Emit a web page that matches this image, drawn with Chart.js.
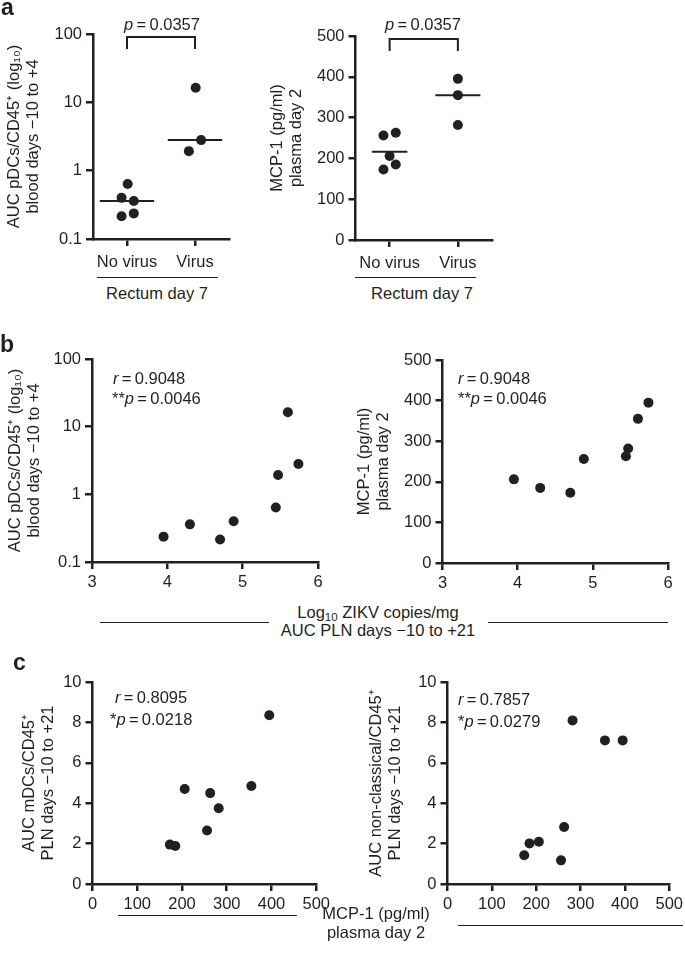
<!DOCTYPE html>
<html>
<head>
<meta charset="utf-8">
<script src="https://cdn.jsdelivr.net/npm/chart.js@4.4.1/dist/chart.umd.min.js"></script>
<style>
  body { margin: 0; width: 685px; height: 963px; position: relative; overflow: hidden; background: #fff;
         font-family: "Liberation Sans", Arial, sans-serif; color: #231f20; }
  canvas { position: absolute; }
  .t { position: absolute; line-height: 1; white-space: nowrap; }
  .t sub { font-size: 0.7em; vertical-align: -0.3em; line-height: 0; }
  .hr { position: absolute; height: 0; border-top: 1.2px solid #231f20; }
</style>
</head>
<body>
<canvas id="aLeft"></canvas>
<canvas id="aRight"></canvas>
<canvas id="bLeft"></canvas>
<canvas id="bRight"></canvas>
<canvas id="cLeft"></canvas>
<canvas id="cRight"></canvas>
<script>
// one entry per animal, ordered by ZIKV load in PLN
const groups = ['No virus', 'Virus']
const zikvLog = [3.95, 4.30, 4.70, 4.88, 5.44, 5.47, 5.60, 5.74]
const pdcAuc = [0.237, 0.36, 0.215, 0.40, 0.64, 1.93, 16.3, 2.8]
const mcp1 = [206, 185, 173, 256, 263, 282, 355, 395]
const mdcAuc = [4.7, 1.88, 1.95, 2.65, 4.5, 3.75, 4.85, 8.35]
const nonClassicalAuc = [2.09, 2.01, 1.42, 1.17, 2.82, 8.1, 7.11, 7.11]
const rectumVirus = [0, 0, 0, 0, 0, 1, 1, 1]
// horizontal spread of the dots inside each group (panel a)
const pdcSpread = [0.1, 0.1, -0.08, -0.08, 0.01, -0.09, 0.01, 0.09]
const mcpSpread = [0, 0.09, -0.09, -0.09, 0.09, 0, 0, 0]
// group centre lines (panel a)
const pdcGroupLine = [0.36, 2.8]
const mcpGroupLine = [216, 355]

const groupTicks = [1, 2]
const logTicks = [0.1, 1, 10, 100]
const mcpTicks = [0, 100, 200, 300, 400, 500]
const zikvTicks = [3, 4, 5, 6]
const aucTicks = [0, 2, 4, 6, 8, 10]

const ink = '#231f20'
Chart.defaults.font.family = '"Liberation Sans", Arial, sans-serif'
Chart.defaults.color = ink

const axis = (o, isY, size) => ({
  type: o.type || 'linear',
  min: o.min,
  max: o.max,
  border: { display: true, color: ink, width: 2.5 },
  grid: { display: true, drawOnChartArea: false, drawTicks: true, tickLength: 7, tickWidth: 2.5, tickColor: ink, color: ink, lineWidth: 2.5 },
  ticks: { color: ink, font: { size: 16.5 }, padding: o.pad, maxRotation: 0, autoSkip: false, callback: o.label || (v => String(v)) },
  title: o.title
    ? { display: true, text: o.title, color: ink, font: { size: 16.5, lineHeight: 1.15 }, padding: { top: 5, bottom: 0 } }
    : { display: false },
  afterBuildTicks: (s) => { s.ticks = o.ticks.map(v => ({ value: v })) },
  afterFit: (s) => { if (isY) s.width = size; else s.height = size }
})

const dots = (xs, ys) => ({
  data: xs.map((x, i) => ({ x: x, y: ys[i] })),
  pointRadius: 5, pointBackgroundColor: ink, pointBorderWidth: 0, showLine: false
})

const groupLines = (values, half) => values.map((v, g) => ({
  data: [{ x: groupTicks[g] - half[g], y: v }, { x: groupTicks[g] + half[g], y: v }],
  showLine: true, borderColor: ink, borderWidth: 2, pointRadius: 0
}))

const bracket = {
  id: 'bracket',
  afterDatasetsDraw(chart) {
    const { ctx, chartArea, scales } = chart
    const x1 = scales.x.getPixelForValue(groupTicks[0])
    const x2 = scales.x.getPixelForValue(groupTicks[1])
    const y = chartArea.top + 3
    ctx.save()
    ctx.strokeStyle = ink
    ctx.lineWidth = 2
    ctx.beginPath()
    ctx.moveTo(x1, y + 12)
    ctx.lineTo(x1, y)
    ctx.lineTo(x2, y)
    ctx.lineTo(x2, y + 12)
    ctx.stroke()
    ctx.restore()
  }
}

// area = plot box on the page, left = where the canvas (y title) starts
const makeChart = (id, area, left, xAxis, yAxis, datasets, plugins) => {
  const cv = document.getElementById(id)
  const top = area.t - 15
  cv.width = area.r + 15 - left
  cv.height = area.b + 30 - top
  cv.style.left = left + 'px'
  cv.style.top = top + 'px'
  return new Chart(cv, {
    type: 'scatter',
    data: { datasets: datasets },
    options: {
      responsive: false,
      animation: false,
      layout: { padding: { top: 15, right: 15, left: 0, bottom: 0 } },
      plugins: { legend: { display: false }, tooltip: { enabled: false } },
      scales: {
        x: axis(xAxis, false, 30),
        y: axis(yAxis, true, area.l - left)
      }
    },
    plugins: plugins || []
  })
}

const groupAxis = { min: 0.5, max: 2.5, ticks: groupTicks, pad: 7, label: v => groups[v - 1] }
const pdcTitle = ['AUC pDCs/CD45\u207A (log\u2081\u2080)', 'blood days \u221210 to +4']
const mcpTitle = ['MCP-1 (pg/ml)', 'plasma day 2']

makeChart('aLeft', { l: 93, t: 34, r: 229, b: 239 }, 0,
  groupAxis,
  { type: 'logarithmic', min: 0.1, max: 100, ticks: logTicks, pad: 4, title: pdcTitle },
  [dots(rectumVirus.map((g, i) => groupTicks[g] + pdcSpread[i]), pdcAuc)].concat(groupLines(pdcGroupLine, [0.4, 0.4])),
  [bracket])

makeChart('aRight', { l: 355, t: 36, r: 492, b: 240 }, 262.5,
  groupAxis,
  { min: 0, max: 500, ticks: mcpTicks, pad: 4, title: mcpTitle },
  [dots(rectumVirus.map((g, i) => groupTicks[g] + mcpSpread[i]), mcp1)].concat(groupLines(mcpGroupLine, [0.26, 0.33])),
  [bracket])

makeChart('bLeft', { l: 92, t: 359, r: 318, b: 562 }, 1,
  { min: 3, max: 6, ticks: zikvTicks, pad: 4 },
  { type: 'logarithmic', min: 0.1, max: 100, ticks: logTicks, pad: 4, title: pdcTitle },
  [dots(zikvLog, pdcAuc)])

makeChart('bRight', { l: 442, t: 360, r: 668, b: 563 }, 349.5,
  { min: 3, max: 6, ticks: zikvTicks, pad: 4 },
  { min: 0, max: 500, ticks: mcpTicks, pad: 4, title: mcpTitle },
  [dots(zikvLog, mcp1)])

makeChart('cLeft', { l: 92, t: 682, r: 319, b: 884 }, 14.5,
  { min: 0, max: 500, ticks: mcpTicks, pad: 4 },
  { min: 0, max: 10, ticks: aucTicks, pad: 4, title: ['AUC mDCs/CD45\u207A', 'PLN days \u221210 to +21'] },
  [dots(mcp1, mdcAuc)])

makeChart('cRight', { l: 447, t: 682, r: 672, b: 884 }, 361.5,
  { min: 0, max: 500, ticks: mcpTicks, pad: 4 },
  { min: 0, max: 10, ticks: aucTicks, pad: 4, title: ['AUC non-classical/CD45\u207A', 'PLN days \u221210 to +21'] },
  [dots(mcp1, nonClassicalAuc)])

// texts and rules around the plots
const place = (html, x, baseline, align, size, bold) => {
  const d = document.createElement('div')
  d.className = 't'
  d.innerHTML = html
  d.style.fontSize = size + 'px'
  if (bold) d.style.fontWeight = 'bold'
  d.style.top = (baseline - 0.846 * size) + 'px'
  d.style.left = x + 'px'
  if (align === 'center') d.style.transform = 'translateX(-50%)'
  document.body.appendChild(d)
}
const rule = (x, y, w) => {
  const d = document.createElement('div')
  d.className = 'hr'
  d.style.left = x + 'px'
  d.style.top = y + 'px'
  d.style.width = w + 'px'
  document.body.appendChild(d)
}
const eq = '\u2009=\u2009'

place('a', 1, 15, 'left', 23, true)
place('<i>p</i>' + eq + '0.0357', 162, 30, 'center', 16.5)
place('<i>p</i>' + eq + '0.0357', 423, 30, 'center', 16.5)
rule(97, 277, 121)
rule(355, 277, 121)
place('Rectum day 7', 157, 299, 'center', 16.5)
place('Rectum day 7', 422, 299, 'center', 16.5)

place('b', 0, 352, 'left', 23, true)
place('<i>r</i>' + eq + '0.9048', 113, 383.5, 'left', 16.5)
place('**<i>p</i>' + eq + '0.0046', 112, 404, 'left', 16.5)
place('<i>r</i>' + eq + '0.9048', 458, 383.5, 'left', 16.5)
place('**<i>p</i>' + eq + '0.0046', 458, 404, 'left', 16.5)
rule(100, 622, 169)
rule(488, 622, 180)
place('Log<sub>10</sub> ZIKV copies/mg', 378, 618, 'center', 16.5)
place('AUC PLN days \u221210 to +21', 378, 636, 'center', 16.5)

place('c', 13, 670, 'left', 23, true)
place('<i>r</i>' + eq + '0.8095', 115, 703, 'left', 16.5)
place('*<i>p</i>' + eq + '0.0218', 110, 725, 'left', 16.5)
place('<i>r</i>' + eq + '0.7857', 458, 705, 'left', 16.5)
place('*<i>p</i>' + eq + '0.0279', 458, 727, 'left', 16.5)
rule(118, 915, 179)
rule(458, 925, 225)
place('MCP-1 (pg/ml)', 376, 919, 'center', 16.5)
place('plasma day 2', 376, 938, 'center', 16.5)
</script>
</body>
</html>
